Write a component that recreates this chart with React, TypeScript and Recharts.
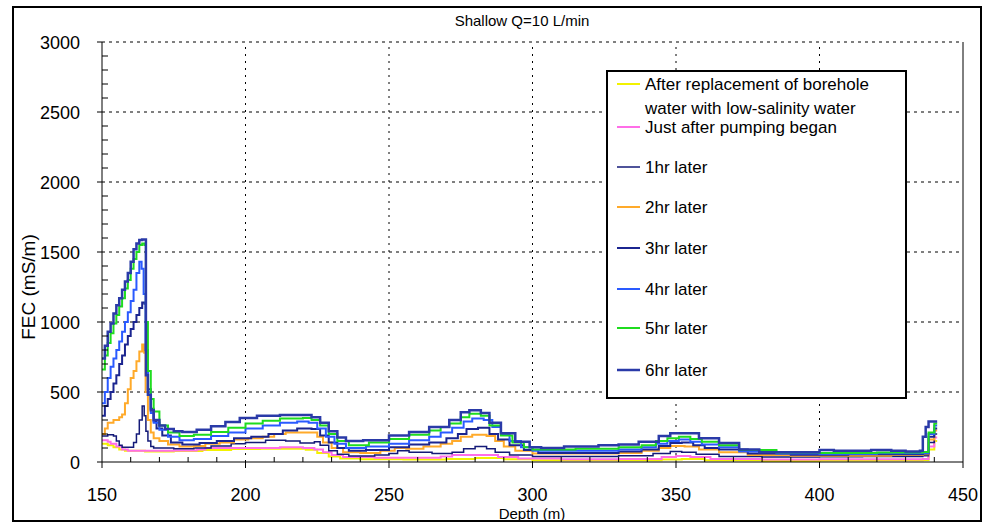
import React from "react";
import { LineChart, Line, XAxis, YAxis, ReferenceLine } from "recharts";

type Pt = [number, number];

// depth (m), FEC (mS/m)
const afterReplacement: Pt[] = [
  [150, 130], [152, 120], [154, 105], [156, 90], [158, 80], [165, 75], [175, 78], [185, 85], [195, 92],
  [205, 95], [215, 95], [221, 88], [225, 65], [229, 40], [233, 25], [240, 20], [255, 18], [270, 22],
  [280, 28], [290, 20], [300, 12], [320, 12], [345, 18], [352, 22], [360, 12], [380, 8], [400, 10],
  [420, 12], [436, 14], [438, 90], [440, 150], [441, 150],
];
const justAfterPumping: Pt[] = [
  [150, 155], [152, 145], [153, 130], [155, 110], [157, 90], [159, 80], [175, 82], [183, 90], [186, 100],
  [200, 100], [212, 105], [220, 100], [224, 90], [227, 70], [230, 50], [234, 35], [245, 30], [260, 30],
  [268, 40], [272, 50], [284, 50], [288, 35], [295, 25], [310, 20], [330, 22], [345, 35], [350, 42],
  [355, 35], [362, 22], [380, 18], [400, 20], [420, 20], [436, 22], [438, 110], [440, 175], [441, 175],
];
const hr1: Pt[] = [
  [150, 185], [152, 195], [154, 185], [155, 150], [156, 120], [157, 105], [160, 105], [161, 140], [162, 200],
  [163, 300], [164, 400], [164.7, 330], [165.3, 220], [166, 150], [167, 110], [168, 100], [175, 95],
  [182, 100], [188, 115], [195, 130], [200, 140], [207, 155], [214, 150], [219, 135], [224, 145], [226, 120],
  [229, 80], [232, 55], [236, 42], [245, 50], [250, 60], [253, 80], [257, 70], [265, 60], [272, 70],
  [276, 95], [280, 110], [284, 95], [287, 70], [292, 50], [300, 40], [315, 40], [330, 45], [342, 60],
  [348, 75], [352, 70], [357, 55], [365, 40], [380, 35], [400, 38], [415, 40], [430, 40], [436, 45],
  [438, 140], [440, 200], [441, 200],
];
const hr2: Pt[] = [
  [150, 200], [151, 240], [152, 280], [154, 300], [156, 320], [157, 340], [158, 420], [159, 520], [160, 600],
  [161, 650], [162, 720], [163, 790], [164, 840], [164.7, 780], [165.2, 500], [166, 300], [167, 210],
  [168, 170], [170, 150], [173, 125], [177, 110], [182, 115], [186, 130], [191, 140], [196, 160], [201, 170],
  [206, 180], [210, 200], [214, 210], [222, 210], [225, 180], [227, 140], [230, 100], [234, 70], [240, 65],
  [247, 80], [252, 100], [256, 95], [262, 110], [268, 130], [272, 150], [275, 180], [279, 195], [284, 185],
  [287, 150], [290, 110], [294, 80], [300, 60], [315, 60], [330, 65], [338, 80], [344, 100], [348, 115],
  [353, 110], [358, 90], [365, 70], [375, 50], [390, 45], [410, 45], [425, 50], [436, 55], [438, 160],
  [440, 225], [441, 225],
];
const hr3: Pt[] = [
  [150, 330], [151, 400], [152, 450], [153, 500], [154, 560], [155, 620], [156, 700], [157, 760], [158, 840],
  [159, 900], [160, 950], [161, 1000], [162, 1050], [163, 1100], [164, 1140], [164.8, 1130], [165.3, 800],
  [166, 520], [167, 380], [168, 290], [169, 240], [171, 190], [174, 140], [178, 125], [184, 135], [190, 150],
  [196, 170], [202, 180], [208, 200], [213, 225], [218, 240], [223, 235], [226, 190], [229, 140], [232, 100],
  [236, 80], [242, 85], [250, 105], [257, 125], [264, 140], [270, 170], [274, 200], [277, 235], [281, 245],
  [285, 200], [288, 160], [292, 120], [297, 85], [302, 65], [315, 65], [330, 75], [338, 90], [344, 115],
  [348, 135], [352, 140], [356, 120], [360, 100], [365, 90], [375, 60], [390, 52], [410, 55], [425, 55],
  [436, 60], [438, 180], [440, 240], [441, 240],
];
const hr4: Pt[] = [
  [150, 420], [151, 500], [152, 600], [153, 680], [154, 740], [155, 800], [156, 860], [157, 930], [158, 1000],
  [159, 1070], [160, 1150], [161, 1230], [162, 1350], [163, 1430], [163.8, 1380], [164.5, 1200], [165.2, 800],
  [166, 500], [167, 350], [168, 280], [170, 230], [173, 180], [177, 155], [182, 165], [188, 185], [194, 210],
  [200, 240], [206, 260], [212, 280], [218, 290], [222, 280], [225, 240], [228, 180], [231, 130], [235, 100],
  [242, 110], [250, 130], [257, 155], [264, 180], [268, 210], [272, 245], [276, 290], [279, 310], [283, 300],
  [286, 250], [289, 200], [292, 150], [296, 105], [300, 80], [315, 80], [330, 90], [338, 105], [343, 130],
  [347, 150], [351, 160], [355, 145], [359, 125], [365, 105], [372, 75], [385, 60], [400, 58], [420, 62],
  [436, 65], [438, 200], [440, 260], [441, 260],
];
const hr5: Pt[] = [
  [150, 660], [151, 760], [152, 850], [153, 920], [154, 990], [155, 1050], [156, 1110], [157, 1170],
  [158, 1240], [159, 1300], [160, 1380], [161, 1450], [162, 1500], [163, 1550], [164, 1560], [164.8, 1550],
  [165.3, 1000], [166, 650], [167, 450], [168, 360], [170, 260], [173, 210], [177, 185], [182, 195],
  [188, 215], [194, 245], [200, 275], [206, 295], [212, 310], [220, 315], [223, 300], [226, 260], [229, 200],
  [232, 150], [236, 120], [243, 140], [250, 165], [257, 195], [264, 225], [268, 250], [271, 275], [275, 320],
  [278, 345], [282, 330], [285, 260], [289, 190], [293, 140], [297, 105], [300, 90], [315, 95], [330, 105],
  [338, 120], [343, 150], [347, 170], [351, 180], [355, 165], [359, 145], [365, 120], [372, 85], [385, 68],
  [400, 65], [420, 68], [436, 72], [438, 210], [440, 275], [441, 275],
];
const hr6: Pt[] = [
  [150, 740], [151, 830], [152, 930], [153, 990], [154, 1060], [155, 1120], [156, 1170], [157, 1230],
  [158, 1290], [159, 1350], [160, 1430], [161, 1520], [162, 1560], [163, 1585], [164, 1590], [164.9, 1590],
  [165.3, 620], [166, 480], [167, 370], [168, 300], [170, 260], [172, 235], [175, 220], [178, 215], [183, 230],
  [188, 255], [193, 285], [198, 315], [204, 330], [212, 335], [220, 335], [223, 320], [226, 280], [229, 220],
  [232, 175], [235, 150], [241, 155], [250, 190], [257, 215], [264, 250], [271, 300], [275, 355], [278, 370],
  [282, 350], [285, 280], [289, 205], [294, 145], [299, 105], [303, 100], [311, 110], [323, 120], [330, 125],
  [337, 145], [344, 185], [348, 205], [353, 205], [358, 170], [365, 135], [372, 90], [379, 70], [393, 70],
  [400, 85], [405, 80], [418, 85], [425, 80], [430, 75], [435, 80], [436, 180], [437, 250], [438, 290],
  [441, 290],
];

const seriesLabels = [
  "After replacement of borehole|water with low-salinity water",
  "Just after pumping began",
  "1hr later",
  "2hr later",
  "3hr later",
  "4hr later",
  "5hr later",
  "6hr later",
];
const seriesData = [afterReplacement, justAfterPumping, hr1, hr2, hr3, hr4, hr5, hr6];
const COLORS = ["#f2f200", "#ff6ee8", "#141a78", "#ffaa2a", "#1b2590", "#2a5aff", "#1fdc1f", "#2a3aa8"];
const WIDTHS = [2, 2, 1.5, 2, 2, 2, 2, 2.5];

const xTicks = [150, 160, 170, 180, 190, 200, 210, 220, 230, 240, 250, 260, 270, 280, 290, 300, 310, 320, 330, 340, 350, 360, 370, 380, 390, 400, 410, 420, 430, 440, 450];
const yTicks = [0, 100, 200, 300, 400, 500, 600, 700, 800, 900, 1000, 1100, 1200, 1300, 1400, 1500, 1600, 1700, 1800, 1900, 2000, 2100, 2200, 2300, 2400, 2500, 2600, 2700, 2800, 2900, 3000];
const xGrid = [200, 250, 300, 350, 400];
const yGrid = [500, 1000, 1500, 2000, 2500, 3000];

const FONT = "'Liberation Sans', Arial, sans-serif";

const XTick = (props: any) => {
  const { x, y, payload } = props;
  const major = payload.value % 50 === 0;
  return (
    <g>
      {major ? (
        <line x1={x} x2={x} y1={y} y2={y + 6} stroke="#000" />
      ) : (
        <line x1={x} x2={x} y1={y} y2={y - 5} stroke="#000" />
      )}
      {major && (
        <text x={x} y={y + 39} textAnchor="middle" fontSize={18} fontFamily={FONT} fill="#000">
          {payload.value}
        </text>
      )}
    </g>
  );
};

const YTick = (props: any) => {
  const { x, y, payload } = props;
  const major = payload.value % 500 === 0;
  return (
    <g>
      {major ? (
        <line x1={x - 5} x2={x} y1={y} y2={y} stroke="#000" />
      ) : (
        <line x1={x} x2={x + 6} y1={y} y2={y} stroke="#000" />
      )}
      {major && (
        <text x={x - 22} y={y + 7} textAnchor="end" fontSize={18} fontFamily={FONT} fill="#000">
          {payload.value}
        </text>
      )}
    </g>
  );
};

// legend row centres (px)
const legendRows = [84, 127, 167, 207, 248, 289, 328, 370];

export default function App() {
  return (
    <div style={{ position: "absolute", left: 0, top: 0, width: 987, height: 527, background: "#fff" }}>
      <LineChart width={987} height={527} margin={{ top: 42, right: 24, bottom: 35, left: 42 }}>
        <XAxis
          type="number"
          dataKey="d"
          domain={[150, 450]}
          ticks={xTicks}
          interval={0}
          allowDataOverflow
          tickSize={0}
          tickMargin={0}
          height={30}
          axisLine={{ stroke: "#000" }}
          tick={<XTick />}
        />
        <YAxis
          type="number"
          dataKey="v"
          domain={[0, 3000]}
          ticks={yTicks}
          interval={0}
          allowDataOverflow
          tickSize={0}
          tickMargin={0}
          width={60}
          axisLine={{ stroke: "#000" }}
          tick={<YTick />}
        />
        {yGrid.map((v) => (
          <ReferenceLine key={"y" + v} y={v} stroke="#000" strokeDasharray="3 4" />
        ))}
        {xGrid.map((v) => (
          <ReferenceLine key={"x" + v} x={v} stroke="#000" strokeDasharray="2 5" />
        ))}
        <ReferenceLine x={450} stroke="#000" />
        {seriesData.map((pts, i) => (
          <Line
            key={i}
            data={pts.map(([d, v]) => ({ d, v }))}
            dataKey="v"
            type="stepAfter"
            stroke={COLORS[i]}
            strokeWidth={WIDTHS[i]}
            dot={false}
            isAnimationActive={false}
          />
        ))}
      </LineChart>

      <svg width={987} height={527} style={{ position: "absolute", left: 0, top: 0, pointerEvents: "none" }}>
        <rect x={13} y={7} width={968} height={514} fill="none" stroke="#000" strokeWidth={2} />
        <text x={522} y={26} textAnchor="middle" fontSize={15} fontFamily={FONT} fill="#000">
          Shallow Q=10 L/min
        </text>
        <text x={532} y={519} textAnchor="middle" fontSize={15} fontFamily={FONT} fill="#000">
          Depth (m)
        </text>
        <text
          x={35}
          y={287}
          textAnchor="middle"
          fontSize={19}
          fontFamily={FONT}
          fill="#000"
          transform="rotate(-90, 35, 287)"
        >
          FEC (mS/m)
        </text>

        <rect x={607} y={71} width={299} height={327} fill="#fff" stroke="#000" strokeWidth={2} />
        {seriesLabels.map((label, i) => {
          const cy = legendRows[i];
          const parts = label.split("|");
          return (
            <g key={i}>
              <line x1={617} x2={640} y1={cy} y2={cy} stroke={COLORS[i]} strokeWidth={WIDTHS[i]} />
              {parts.map((p, j) => (
                <text key={j} x={645} y={cy + 6 + j * 24} fontSize={17} fontFamily={FONT} fill="#000">
                  {p}
                </text>
              ))}
            </g>
          );
        })}
      </svg>
    </div>
  );
}
